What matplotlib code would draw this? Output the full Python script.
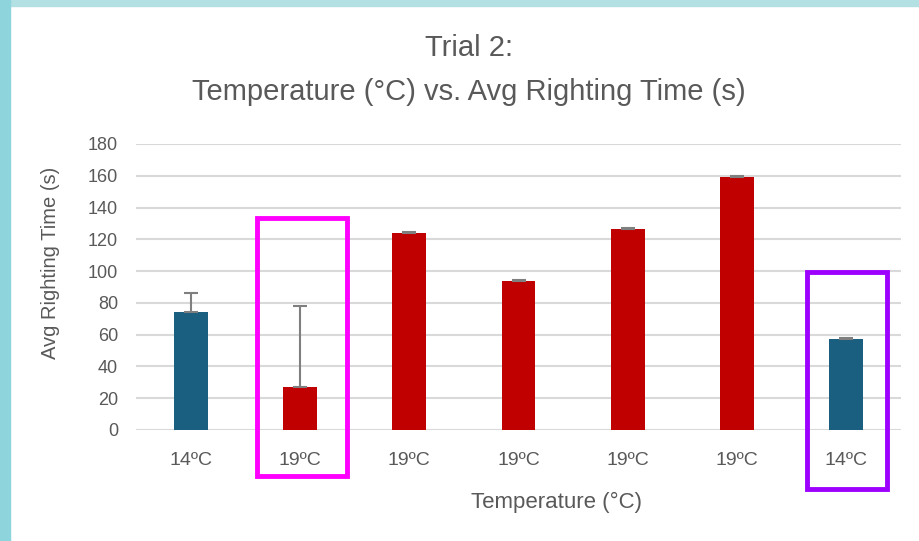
import matplotlib as mpl
mpl.use('Agg')
import matplotlib.pyplot as plt
from matplotlib.patches import Rectangle

plt.rcParams['font.family'] = ['Liberation Sans', 'DejaVu Sans']

labels = ['14ºC', '19ºC', '19ºC', '19ºC', '19ºC', '19ºC', '14ºC']
values = [74, 27, 124, 93.5, 126.5, 159.5, 57]
errors = [12, 51, 0.6, 0.6, 0.6, 0.6, 0.6]
colors = ['#1a5e80', '#c00000', '#c00000', '#c00000', '#c00000', '#c00000', '#1a5e80']
yticks = list(range(0, 181, 20))

W, H = 920, 541
fig = plt.figure(figsize=(W/100, H/100), dpi=100)
fig.patch.set_facecolor('white')

# teal frame of the slide
fig.add_artist(Rectangle((0, 1 - 6/H), 1, 6/H, transform=fig.transFigure,
                         color='#b3e0e2', zorder=0))
fig.add_artist(Rectangle((0, 0), 10/W, 1, transform=fig.transFigure,
                         color='#8ed4dc', zorder=0))

ax = fig.add_axes([136/W, (H-430)/H, (901-136)/W, (430-144)/H])
x = list(range(len(values)))
ax.bar(x, values, width=0.31, color=colors, zorder=3)
ax.errorbar(x, values, yerr=[[0]*len(errors), errors], fmt='none',
            ecolor='#7f7f7f', elinewidth=1.5, capsize=5, capthick=1.5, zorder=4)

ax.set_xlim(-0.5, len(values) - 0.5)
ax.set_ylim(0, 180)
ax.set_yticks(yticks)
ax.set_xticks(x)
ax.set_xticklabels(labels)
ax.yaxis.grid(True, color='#d9d9d9', linewidth=1.5, zorder=0)
ax.set_axisbelow(True)
for s in ax.spines.values():
    s.set_visible(False)
ax.tick_params(length=0, colors='#595959', labelsize=13)
ax.tick_params(axis='y', pad=13)
ax.tick_params(axis='x', labelsize=14, pad=16)

fig.text(51/W, 1 - 263/H, 'Avg Righting Time (s)', rotation=90, ha='center',
         va='center', color='#595959', fontsize=14.5)
fig.text(557/W, 1 - 502/H, 'Temperature (°C)', ha='center', va='center',
         color='#595959', fontsize=16)
fig.text(469/W, 1 - 48/H, 'Trial 2:', ha='center', va='center',
         color='#595959', fontsize=21)
fig.text(469/W, 1 - 92/H, 'Temperature (°C) vs. Avg Righting Time (s)',
         ha='center', va='center', color='#595959', fontsize=21)

# highlight boxes
fig.add_artist(Rectangle((257/W, 1 - 476/H), 90/W, 258/H, transform=fig.transFigure,
                         fill=False, edgecolor='#ff00ff', linewidth=3.5))
fig.add_artist(Rectangle((807/W, 1 - 489/H), 80/W, 217/H, transform=fig.transFigure,
                         fill=False, edgecolor='#9d00ff', linewidth=3.5))

fig.savefig('out.png', dpi=100)
